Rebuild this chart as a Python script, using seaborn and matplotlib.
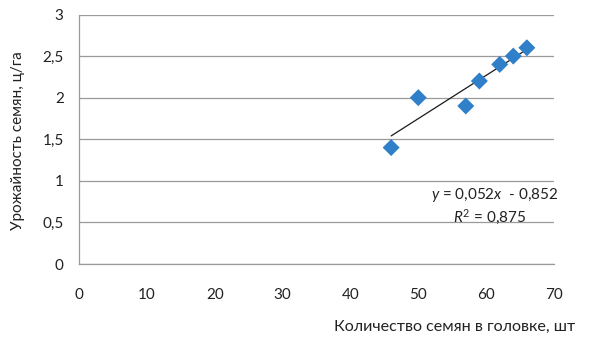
import matplotlib
matplotlib.use("Agg")
import matplotlib.pyplot as plt
import seaborn as sns
import numpy as np
import pandas as pd
from matplotlib.ticker import FuncFormatter, MultipleLocator

# Seed count per head vs. seed yield
seeds_per_head = [46, 50, 57, 59, 62, 64, 66]
seed_yield = [1.4, 2.0, 1.9, 2.2, 2.4, 2.5, 2.6]

# Linear trend as reported on the chart
trend_slope = 0.052
trend_intercept = -0.852
trend_r2 = 0.875

x_label = "Количество семян в головке, шт"
y_label = "Урожайность семян, ц/га"

df = pd.DataFrame({"x": seeds_per_head, "y": seed_yield})
x_ends = np.array([min(seeds_per_head), max(seeds_per_head)])
trend = pd.DataFrame({"x": x_ends, "y": trend_slope * x_ends + trend_intercept})

sns.set_theme(style="white")
plt.rcParams["font.family"] = ["Lato", "DejaVu Sans"]
plt.rcParams["mathtext.fontset"] = "custom"
plt.rcParams["mathtext.rm"] = "Lato"
plt.rcParams["mathtext.it"] = "Lato:italic"

fig = plt.figure(figsize=(5.92, 3.38), dpi=100)
ax = fig.add_axes([79 / 592, 1 - 264 / 338, (554 - 79) / 592, (264 - 14.5) / 338])

grid_c = "#9a9a9a"
text_c = "#222222"
ax.set_xlim(0, 70)
ax.set_ylim(0, 3)
ax.xaxis.set_major_locator(MultipleLocator(10))
ax.yaxis.set_major_locator(MultipleLocator(0.5))
ax.yaxis.grid(True, color=grid_c, linewidth=0.9)
ax.xaxis.grid(False)
ax.set_axisbelow(True)

for side in ("top", "right"):
    ax.spines[side].set_visible(False)
for side in ("left", "bottom"):
    ax.spines[side].set_color(grid_c)
    ax.spines[side].set_linewidth(0.9)

ax.tick_params(axis="both", which="major", direction="out", length=4,
               width=0.9, color=grid_c, labelsize=11, labelcolor=text_c)
ax.tick_params(axis="x", pad=13)
ax.tick_params(axis="y", pad=7)
ax.xaxis.set_major_formatter(FuncFormatter(lambda v, p: f"{v:g}"))
ax.yaxis.set_major_formatter(FuncFormatter(lambda v, p: f"{v:g}".replace(".", ",")))

sns.lineplot(data=trend, x="x", y="y", ax=ax, color="#1a1a1a", linewidth=0.9)
sns.scatterplot(data=df, x="x", y="y", ax=ax, marker="D", s=75,
                color="#2f80c8", edgecolor="none", zorder=3)

def dec(v):
    return f"{v:.3f}".replace(".", ",")

ax.text(558 / 592, 1 - 195 / 338,
        f"$\\it{{y}}$ = {dec(trend_slope)}$\\it{{x}}$  - {dec(abs(trend_intercept))}",
        transform=fig.transFigure, ha="right", va="center", fontsize=11,
        color=text_c)
ax.text(490 / 592, 1 - 217 / 338,
        f"$\\it{{R}}^2$ = {dec(trend_r2)}",
        transform=fig.transFigure, ha="center", va="center", fontsize=11,
        color=text_c)

ax.set_xlabel("")
ax.set_ylabel("")
fig.text(575 / 592, 1 - 327 / 338, x_label, ha="right", va="center",
         fontsize=11.6, color=text_c)
fig.text(18 / 592, 1 - 141 / 338, y_label, ha="center", va="center",
         rotation=90, fontsize=11, color=text_c)

fig.savefig("out.png", dpi=100)
